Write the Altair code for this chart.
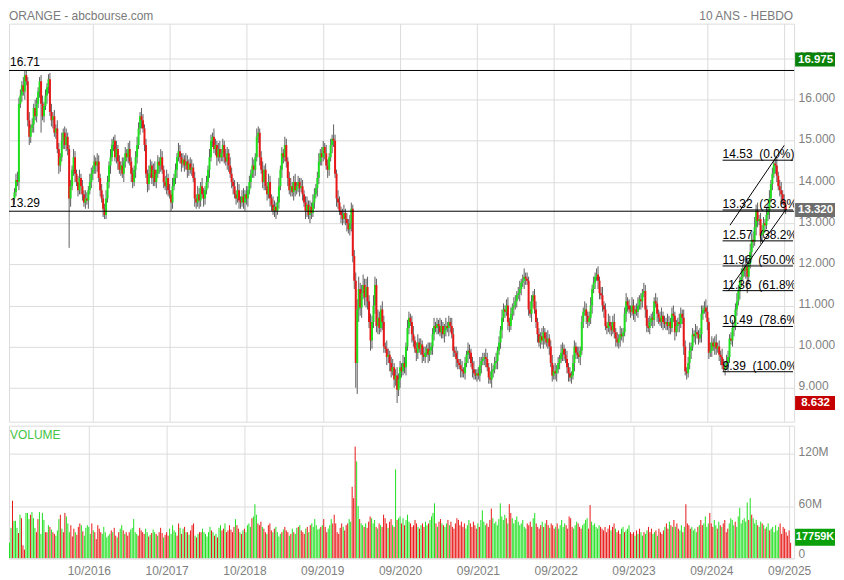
import altair as alt
import pandas as pd

# ---------------- weekly closes (one list per 52-week block, first week index 3) -------------
close_b0 = [13.75, 14.05, 14.0, 15.9, 16.1, 16.35, 16.2, 16.6, 16.45, 15.5,
            15.1, 15.3, 15.4, 15.8, 15.6, 15.9, 16.2, 16.45, 15.9, 15.6,
            15.85, 16.1, 16.3, 16.5, 15.7, 15.5, 15.6, 15.2, 15.3, 14.8,
            14.4, 14.6, 15.0, 15.2, 14.9, 15.1, 14.8, 13.6, 13.9, 14.3,
            14.6, 14.2, 14.0, 13.8, 14.1, 13.9, 13.7, 13.5, 13.6, 13.55,
            13.8, 14.0, 14.2]
close_b1 = [14.3, 14.5, 14.4, 14.5, 14.1, 13.8, 13.6, 13.35, 13.2, 13.6,
            14.0, 14.4, 14.6, 14.9, 15.0, 14.6, 14.8, 14.5, 14.3, 14.4,
            14.2, 14.5, 14.7, 14.6, 14.8, 14.5, 14.2, 14.0, 14.3, 14.6,
            14.9, 15.3, 15.6, 15.5, 15.3, 14.9, 14.2, 13.95, 14.2, 14.4,
            14.1, 14.3, 14.0, 14.2, 14.5, 14.4, 14.6, 14.3, 14.0, 13.9,
            14.1, 13.8]
close_b2 = [13.7, 13.5, 13.9, 14.1, 14.3, 14.6, 14.75, 14.6, 14.45, 14.55,
            14.4, 14.5, 14.3, 14.45, 14.3, 14.35, 14.1, 13.6, 13.5, 13.7,
            13.55, 13.9, 13.7, 13.6, 13.8, 14.0, 14.3, 14.6, 15.0, 15.1,
            14.8, 14.9, 14.6, 14.8, 14.6, 14.7, 14.9, 14.6, 14.5, 14.7,
            14.4, 14.2, 14.0, 13.9, 13.7, 13.6, 13.8, 13.55, 13.5, 13.65,
            13.5, 13.7]
close_b3 = [13.6, 13.8, 14.0, 14.2, 14.4, 14.3, 14.6, 15.1, 15.2, 14.6,
            14.3, 14.0, 14.3, 13.9, 13.7, 14.0, 13.6, 13.45, 13.3, 13.4,
            13.3, 13.5, 13.9, 14.3, 14.7, 14.6, 14.9, 14.5, 14.1, 13.8,
            13.9, 13.75, 14.0, 13.8, 13.9, 14.0, 13.85, 13.9, 13.7, 13.5,
            13.3, 13.45, 13.2, 13.4, 13.25, 13.5, 13.7, 13.85, 14.1, 14.5,
            14.7, 14.6]
close_b4 = [14.85, 14.7, 14.4, 14.3, 14.6, 14.9, 15.05, 15.0, 14.2, 13.6,
            13.5, 13.3, 13.2, 13.1, 13.25, 13.1, 13.0, 12.85, 13.0, 13.35,
            12.2, 11.6, 9.6, 10.9, 11.4, 10.95, 11.3, 11.5, 11.2, 11.45,
            11.1, 10.6, 10.15, 10.6, 11.0, 11.5, 10.5, 10.7, 10.45, 10.9,
            10.6, 10.0, 9.95, 9.75, 9.8, 9.6, 9.4, 9.5, 9.2, 9.3,
            8.95, 9.2]
close_b5 = [9.5, 9.4, 9.6, 9.5, 10.0, 10.45, 10.7, 10.6, 10.3, 10.15,
            9.95, 9.85, 10.1, 9.95, 10.05, 9.8, 9.75, 9.85, 9.95, 9.8,
            9.9, 10.0, 10.3, 10.5, 10.45, 10.55, 10.5, 10.35, 10.5, 10.3,
            10.4, 10.5, 10.45, 10.6, 10.5, 10.3, 9.9, 9.85, 9.7, 9.6,
            9.55, 9.45, 9.4, 9.35, 9.6, 9.8, 9.9, 9.85, 9.6, 9.45,
            9.35, 9.3]
close_b6 = [9.35, 9.3, 9.55, 9.65, 9.7, 9.75, 9.7, 9.5, 9.25, 9.2,
            9.4, 9.45, 9.6, 9.65, 9.9, 10.1, 10.4, 10.7, 10.9, 10.85,
            11.0, 10.6, 10.5, 10.8, 10.95, 11.0, 11.1, 11.25, 11.3, 11.4,
            11.55, 11.6, 11.7, 11.65, 11.6, 10.9, 10.8, 11.1, 11.25, 10.9,
            10.6, 10.3, 10.1, 10.25, 10.15, 10.35, 10.2, 10.1, 10.2, 10.0,
            9.6, 9.3]
close_b7 = [9.4, 9.35, 9.45, 9.6, 9.7, 9.85, 9.95, 9.8, 9.7, 9.5,
            9.35, 9.25, 9.3, 9.6, 10.0, 9.85, 9.8, 9.75, 9.9, 10.6,
            10.85, 10.9, 10.75, 10.6, 10.7, 11.0, 11.4, 11.55, 11.7, 11.75,
            11.6, 11.3, 11.25, 11.0, 10.9, 10.5, 10.45, 10.6, 10.5, 10.4,
            10.6, 10.35, 10.2, 10.1, 10.2, 10.3, 10.25, 10.35, 10.8, 11.1,
            11.0, 10.9]
close_b8 = [10.85, 11.0, 10.8, 10.9, 10.85, 11.0, 11.15, 11.1, 11.3, 11.35,
            10.9, 10.5, 10.45, 10.6, 10.7, 10.65, 11.1, 11.05, 10.8, 10.7,
            10.6, 10.75, 10.6, 10.55, 10.6, 10.5, 10.6, 10.45, 10.8, 10.75,
            10.35, 10.5, 10.6, 10.55, 10.8, 10.7, 10.0, 9.4, 9.35, 9.6,
            9.9, 10.0, 10.3, 10.25, 10.35, 10.3, 10.2, 10.3, 10.8, 10.9,
            10.95, 10.85]
close_b9 = [10.6, 9.85, 9.9, 10.1, 10.0, 10.1, 9.95, 10.0, 9.8, 9.75,
            9.55, 9.45, 9.55, 9.6, 9.75, 10.2, 10.15, 10.45, 10.5, 10.9,
            11.1, 11.35, 11.6, 11.7, 11.9, 11.85, 11.95, 11.7, 12.0, 12.3,
            12.6, 12.55, 12.9, 13.3, 13.05, 13.1, 12.7, 12.75, 13.0, 12.95,
            13.2, 13.3, 13.6, 13.95, 14.2, 14.45, 14.4, 14.15, 13.9, 13.8,
            13.7, 13.55, 13.45, 13.32]
first_open = 13.6

# upper / lower wick lengths, in hundredths of a euro
up_b0 = [10,15,20,15,15,10,20,11,12,10, 20,10,15,10,20,15,10,10,15,20, 10,15,10,12,15,20,10,15,10,20,
         15,10,20,10,15,20,10,10,15,10, 20,15,10,15,20,10,15,10,20,15, 10,20,15]
dn_b0 = [15,10,10,20,10,15,10,20,10,15, 20,15,10,20,10,15,10,15,70,10, 15,10,20,15,10,15,20,10,15,10,
         20,15,10,20,10,15,15,120,20,10, 15,20,10,15,10,20,15,10,15,10, 20,10,15]
up_b1 = [10,15,10,20,15,10,15,10,12,20, 15,10,20,15,10,15,20,10,15,10, 20,10,15,10,15,20,10,15,10,15,
         20,15,10,20,15,10,15,10,20,15, 10,15,20,10,15,10,20,15,10,15, 20,10]
dn_b1 = [15,10,20,15,10,15,10,20,10,10, 10,15,20,10,15,10,15,20,10,15, 10,20,15,10,15,10,20,15,10,20,
         15,10,15,20,10,15,10,20,15,10, 15,20,10,15,10,20,15,10,15,10, 20,15]
up_b2 = [15,10,20,10,15,10,20,15,10,15, 10,20,15,10,15,20,10,15,10,20, 15,10,20,15,10,15,10,20,15,10,
         20,15,10,15,20,10,15,10,20,15, 10,20,15,10,15,10,20,15,10,15, 20,10]
dn_b2 = [10,20,15,10,15,20,10,15,20,10, 15,10,20,15,10,15,10,20,15,10, 20,15,10,20,15,10,15,20,10,15,
         10,15,20,10,15,10,20,15,10,20, 15,10,15,20,10,15,10,20,15,10, 15,20]
up_b3 = [20,10,15,10,20,15,10,20,15,10, 15,20,10,15,10,20,15,10,20,15, 10,15,20,10,15,10,20,15,10,15,
         20,10,15,20,10,15,10,20,15,10, 15,20,10,15,10,20,15,10,15,20, 10,15]
dn_b3 = [15,20,10,15,10,20,15,10,15,20, 10,15,20,10,15,10,20,15,10,15, 20,10,15,10,20,15,10,15,20,10,
         15,10,20,15,10,15,20,10,15,10, 20,15,10,20,15,10,15,10,20,15, 10,20]
up_b4 = [15,10,20,15,10,15,10,35,15,10, 20,15,10,15,20,10,15,10,20,15, 10,15,20,25,30,15,20,25,15,20,
         25,15,20,15,25,20,15,20,15,10, 20,15,10,20,15,10,15,20,10,15, 20,15]
dn_b4 = [10,15,10,20,15,10,20,15,10,20, 15,10,20,15,10,15,20,10,15,20, 15,20,60,75,30,20,25,15,20,25,
         20,15,25,20,15,20,15,20,15,10, 20,15,10,20,15,20,15,10,20,15, 32,15]
up_b5 = [15,10,20,15,10,20,15,10,15,20, 10,15,20,10,15,10,20,15,10,15, 20,10,15,20,10,15,10,20,15,10,
         15,20,10,15,10,20,15,10,15,20, 10,15,20,10,15,10,20,15,10,15, 20,10]
dn_b5 = [20,15,10,15,20,10,15,10,20,15, 10,20,15,10,15,20,10,15,10,20, 15,10,20,15,10,15,20,10,15,10,
         20,15,10,20,15,10,15,10,20,15, 10,20,15,10,15,10,20,15,10,20, 15,10]
up_b6 = [10,15,20,10,15,10,20,15,10,15, 20,10,15,20,10,15,10,20,15,10, 15,20,10,15,10,20,15,10,15,20,
         10,15,20,10,15,10,20,15,10,15, 20,10,15,10,20,15,10,15,20,10, 15,20]
dn_b6 = [15,10,15,20,10,15,20,10,15,10, 20,15,10,15,20,10,15,20,10,15, 10,20,15,10,15,20,10,15,10,20,
         15,10,20,15,10,15,10,20,15,10, 15,20,10,15,10,20,15,10,15,20, 10,15]
up_b7 = [15,20,10,15,10,20,15,10,15,20, 10,15,10,20,15,10,15,20,10,15, 10,20,15,10,15,20,10,15,10,15,
         20,10,15,20,10,15,10,20,15,10, 15,20,10,15,10,20,15,10,15,20, 10,15]
dn_b7 = [10,15,20,10,15,10,20,15,10,15, 20,10,15,10,20,15,10,15,20,10, 15,10,20,15,10,15,20,10,15,10,
         20,15,10,15,20,10,15,10,20,15, 10,15,20,10,15,20,10,15,10,20, 15,10]
up_b8 = [10,20,15,10,15,20,10,15,10,20, 15,10,20,15,10,15,10,20,15,10, 15,20,10,15,10,20,15,10,15,20,
         10,15,10,20,15,10,20,15,10,15, 20,10,15,10,20,15,10,15,20,10, 15,20]
dn_b8 = [15,10,15,20,10,15,10,20,15,10, 20,15,10,15,10,20,15,10,20,15, 10,15,20,10,15,10,20,15,10,15,
         20,10,15,20,10,15,20,10,15,10, 15,20,10,15,20,10,15,10,20,15, 10,15]
up_b9 = [15,10,20,15,10,15,20,10,15,10, 20,15,10,20,15,10,15,20,10,15, 20,15,10,20,15,10,25,15,10,20,
         15,20,25,15,20,10,15,20,15,10, 20,15,20,10,15,8,15,20,10,15, 20,10,15,10]
dn_b9 = [20,15,10,15,10,20,15,10,15,20, 10,6,15,10,20,15,10,15,20,10, 15,10,20,15,10,15,20,40,15,10,
         20,15,10,20,15,10,20,15,10,15, 10,15,20,10,15,10,20,15,10,15, 20,10,15,10]

# weekly volume, millions of shares
vol_b0 = [18,35,66,43,43,35,29,50,46,15, 10,52,52,45,50,53,46,35,30,45, 53,28,52,44,30,30,38,36,33,30,
          28,26,32,45,50,34,30,52,48,40, 30,38,25,34,30,27,36,40,38,31, 26,35,38]
vol_b1 = [36,28,40,32,30,22,38,34,30,28, 36,30,24,26,28,32,30,35,26,24, 30,34,38,32,28,30,26,30,33,35,
          45,30,28,26,35,32,30,28,34,30, 25,27,29,33,30,28,26,30,35,29, 24,27]
vol_b2 = [30,26,34,28,38,32,30,26,40,35, 28,34,36,30,30,27,32,38,40,26, 24,28,30,30,34,30,28,25,30,36,
          32,30,26,28,24,35,38,32,34,40, 30,32,38,33,30,36,45,38,34,30, 28,32]
vol_b3 = [34,30,38,40,36,46,48,62,50,40, 38,42,36,34,30,28,38,40,32,30, 34,36,30,25,28,30,33,36,32,30,
          26,28,34,30,28,35,36,38,32,30, 28,34,36,30,38,40,36,45,38,33, 34,36]
vol_b4 = [38,45,36,30,34,38,45,40,50,40, 30,28,35,40,36,32,38,40,45,42, 82,69,128,111,60,45,40,38,36,40,
          35,42,48,46,40,44,36,34,40,38, 36,50,46,40,35,42,45,38,36,102, 44,46]
vol_b5 = [48,40,46,38,44,50,42,40,36,38, 44,40,36,34,38,40,36,42,38,40, 44,48,52,63,40,36,42,45,40,38,
          36,40,44,38,42,36,34,40,46,44, 38,42,36,40,34,38,44,40,36,42, 38,34]
vol_b6 = [40,36,44,55,42,38,40,36,44,57, 46,40,42,38,45,63,48,44,50,46, 40,62,52,46,40,44,48,42,38,40,
          44,36,34,40,38,42,36,46,52,40, 36,34,38,42,36,40,44,38,35,40, 38,34]
vol_b7 = [36,40,34,38,44,36,40,38,34,48, 46,36,34,38,42,40,36,34,38,40, 44,46,34,61,42,38,40,36,34,38,
          36,34,32,36,30,34,38,32,36,40, 34,30,32,28,34,36,30,32,34,38, 30,28]
vol_b8 = [30,26,32,28,34,30,26,30,28,32, 36,30,34,28,30,32,26,34,30,28, 32,36,40,34,42,38,36,44,36,40,
          34,32,38,30,36,62,40,38,34,36, 32,34,30,36,38,44,38,40,48,36, 40,52]
vol_b9 = [40,36,44,38,34,42,38,36,40,44, 30,34,40,46,44,38,42,36,48,58, 40,44,46,42,64,44,69,50,46,40,
          44,38,36,42,40,38,34,36,40,32, 34,36,30,38,32,36,40,28,36,34, 30,26,32,17.759]

# x axis: week index of each yearly label
label_weeks = [56, 108, 160, 212, 264, 316, 368, 420, 472, 524]
label_texts = ["10/2016", "10/2017", "10/2018", "09/2019", "09/2020",
               "09/2021", "09/2022", "09/2023", "09/2024", "09/2025"]
price_ticks = [9, 10, 11, 12, 13, 14, 15, 16, 17]
vol_ticks = [0, 60, 120]

# horizontal support / resistance lines
hline_values = [16.71, 13.29]
hline_labels = ["16.71", "13.29"]

# Fibonacci retracement (from the 9.39 low to the 14.53 high)
fib_levels = [14.53, 13.32, 12.57, 11.96, 11.36, 10.49, 9.39]
fib_pcts = ["0.0%", "23.6%", "38.2%", "50.0%", "61.8%", "78.6%", "100.0%"]
fib_start_week = 482.3
fib_end_week = 530

# rising channel: two parallel lines (week, price)
chan_id = ["up", "up", "low", "low"]
chan_week = [487.3, 524.0, 486.0, 525.3]
chan_price = [12.95, 14.89, 11.35, 13.34]

# value boxes on the right
box_price_values = [16.975, 13.32, 8.632]
box_price_texts = ["16.975", "13.320", "8.632"]
box_price_colors = ["#0a820a", "#6e6e6e", "#c40000"]
box_vol_value = [24.3]
box_vol_text = ["17759K"]

# ------------------------------------------------------------------------
closes = (close_b0 + close_b1 + close_b2 + close_b3 + close_b4 +
          close_b5 + close_b6 + close_b7 + close_b8 + close_b9)
ups = up_b0 + up_b1 + up_b2 + up_b3 + up_b4 + up_b5 + up_b6 + up_b7 + up_b8 + up_b9
dns = dn_b0 + dn_b1 + dn_b2 + dn_b3 + dn_b4 + dn_b5 + dn_b6 + dn_b7 + dn_b8 + dn_b9
vols = vol_b0 + vol_b1 + vol_b2 + vol_b3 + vol_b4 + vol_b5 + vol_b6 + vol_b7 + vol_b8 + vol_b9
n = len(closes)

rows = []
prev = first_open
for i in range(n):
    o, c = prev, closes[i]
    u = ups[i] if i < len(ups) else 10
    d = dns[i] if i < len(dns) else 10
    v = vols[i] if i < len(vols) else 30
    rows.append({"w": 3 + i, "open": o, "close": c,
                 "high": max(o, c) + u / 100.0, "low": min(o, c) - d / 100.0,
                 "vol": v, "dir": "up" if c >= o else "down"})
    prev = c
df = pd.DataFrame(rows)

GREEN, RED = "#1fe01f", "#e81818"
VGREEN, VRED = "#3cbc3c", "#ff3535"
GRID = "#dcdcdc"
LBL = "#808080"

W, HP, HV = 787, 399, 133
BOX_L, BOX_R = W + 1, W + 41   # value boxes must stay inside the 828px-wide page body

xs = alt.Scale(domain=[2.667, 527.333], nice=False, zero=False)
ys = alt.Scale(domain=[8.176, 17.848], nice=False, zero=False)
vs = alt.Scale(domain=[0, 152], nice=False, zero=False)

x_axis_p = alt.Axis(values=label_weeks, labels=False, ticks=False, domain=False,
                    grid=True, gridColor=GRID, title=None)
y_axis_p = alt.Axis(orient="right", values=price_ticks, format=".3f", ticks=False,
                    domain=False, grid=True, gridColor=GRID, labelColor=LBL,
                    labelFontSize=12, labelPadding=4, labelOffset=-2, title=None)

label_expr = " : ".join(f"datum.value == {w} ? '{t}'" for w, t in zip(label_weeks, label_texts)) + " : ''"
x_axis_v = alt.Axis(values=label_weeks, labelExpr=label_expr, ticks=False, domain=False,
                    grid=True, gridColor=GRID, labelColor=LBL, labelFontSize=12,
                    labelPadding=7, labelFlush=False, labelOverlap=False, title=None)
y_axis_v = alt.Axis(orient="right", values=vol_ticks,
                    labelExpr="datum.value == 0 ? '0' : datum.value + 'M'",
                    ticks=False, domain=False, grid=True, gridColor=GRID,
                    labelColor=LBL, labelFontSize=12, labelPadding=4, labelOffset=-2,
                    labelFlush=True, labelFlushOffset=4, title=None)

X = lambda f: alt.X(f, scale=xs, axis=x_axis_p)
Y = lambda f: alt.Y(f, scale=ys, axis=y_axis_p)

base = alt.Chart(df)
wick = base.mark_rule(color="#5e5e5e", strokeWidth=1, clip=True).encode(
    x=X("w:Q"), y=Y("low:Q"), y2="high:Q")
body = base.mark_bar(width=2, clip=True).encode(
    x=X("w:Q"), y=Y("open:Q"), y2="close:Q",
    color=alt.Color("dir:N", scale=alt.Scale(domain=["up", "down"], range=[GREEN, RED]), legend=None))

hdf = pd.DataFrame({"p": hline_values, "t": hline_labels})
hrule = alt.Chart(hdf).mark_rule(color="black", strokeWidth=1).encode(y=Y("p:Q"))
htext = alt.Chart(hdf).mark_text(align="left", baseline="alphabetic", dy=-4, fontSize=12,
                                 color="black").encode(x=alt.value(1), y=Y("p:Q"), text="t:N")

fdf = pd.DataFrame({"p": fib_levels,
                    "t": [f"{lv:.2f}\u00a0\u00a0({pc})" for lv, pc in zip(fib_levels, fib_pcts)],
                    "w0": [fib_start_week] * len(fib_levels),
                    "w1": [fib_end_week] * len(fib_levels)})
frule = alt.Chart(fdf).mark_rule(color="black", strokeWidth=1, clip=True).encode(
    x=X("w0:Q"), x2="w1:Q", y=Y("p:Q"))
ftext = alt.Chart(fdf).mark_text(align="left", baseline="alphabetic", dy=-2, fontSize=12,
                                 color="black", clip=True).encode(
    x=X("w0:Q"), y=Y("p:Q"), text="t:N")

cdf = pd.DataFrame({"id": chan_id, "w": chan_week, "p": chan_price})
chan = alt.Chart(cdf).mark_line(color="black", strokeWidth=1, clip=True).encode(
    x=X("w:Q"), y=Y("p:Q"), detail="id:N")

bdf = pd.DataFrame({"p": box_price_values, "t": box_price_texts, "c": box_price_colors})
bbox = alt.Chart(bdf).mark_rect(yOffset=-7, y2Offset=7).encode(
    x=alt.value(BOX_L), x2=alt.value(BOX_R), y=Y("p:Q"), y2="p:Q",
    color=alt.Color("c:N", scale=None))
btext = alt.Chart(bdf).mark_text(align="center", baseline="middle", fontSize=11.5,
                                 fontWeight="bold", color="white").encode(
    x=alt.value((BOX_L + BOX_R) / 2 + 0.5), y=Y("p:Q"), text="t:N")

tdf = pd.DataFrame({"t": ["ORANGE - abcbourse.com"]})
title_l = alt.Chart(tdf).mark_text(align="left", baseline="top", fontSize=12, color="#7a7a7a").encode(
    x=alt.value(0), y=alt.value(-13), text="t:N")
tdf2 = pd.DataFrame({"t": ["10 ANS - HEBDO"]})
title_r = alt.Chart(tdf2).mark_text(align="right", baseline="top", fontSize=12, color="#7a7a7a").encode(
    x=alt.value(W - 1), y=alt.value(-13), text="t:N")

price = alt.layer(wick, body, hrule, htext, frule, ftext, chan, bbox, btext, title_l, title_r
                  ).properties(width=W, height=HP)

XV = lambda f: alt.X(f, scale=xs, axis=x_axis_v)
YV = lambda f: alt.Y(f, scale=vs, axis=y_axis_v)
vbars = alt.Chart(df).mark_rule(strokeWidth=1, clip=True).encode(
    x=XV("w:Q"), y=YV("vol:Q"), y2=alt.datum(0),
    color=alt.Color("dir:N", scale=alt.Scale(domain=["up", "down"], range=[VGREEN, VRED]), legend=None))
vdf = pd.DataFrame({"t": ["VOLUME"]})
vlabel = alt.Chart(vdf).mark_text(align="left", baseline="alphabetic", fontSize=12, color="#44c444").encode(
    x=alt.value(1), y=alt.value(13), text="t:N")
vbdf = pd.DataFrame({"v": box_vol_value, "t": box_vol_text})
vbox = alt.Chart(vbdf).mark_rect(yOffset=-8.5, y2Offset=8.5, color="#0aa00a").encode(
    x=alt.value(BOX_L), x2=alt.value(BOX_R), y=YV("v:Q"), y2="v:Q")
vbtext = alt.Chart(vbdf).mark_text(align="center", baseline="middle", fontSize=11,
                                   fontWeight="bold", color="white").encode(
    x=alt.value((BOX_L + BOX_R) / 2), y=YV("v:Q"), text="t:N")
volume = alt.layer(vbars, vlabel, vbox, vbtext).properties(width=W, height=HV)

chart = alt.vconcat(price, volume, spacing=4, bounds="flush").properties(
    padding={"left": 0, "top": 0, "right": 0, "bottom": 0}
).configure(font="Liberation Sans", background="white").configure_view(stroke=GRID)

chart.save("out.html", embed_options={"renderer": "svg", "actions": False})
